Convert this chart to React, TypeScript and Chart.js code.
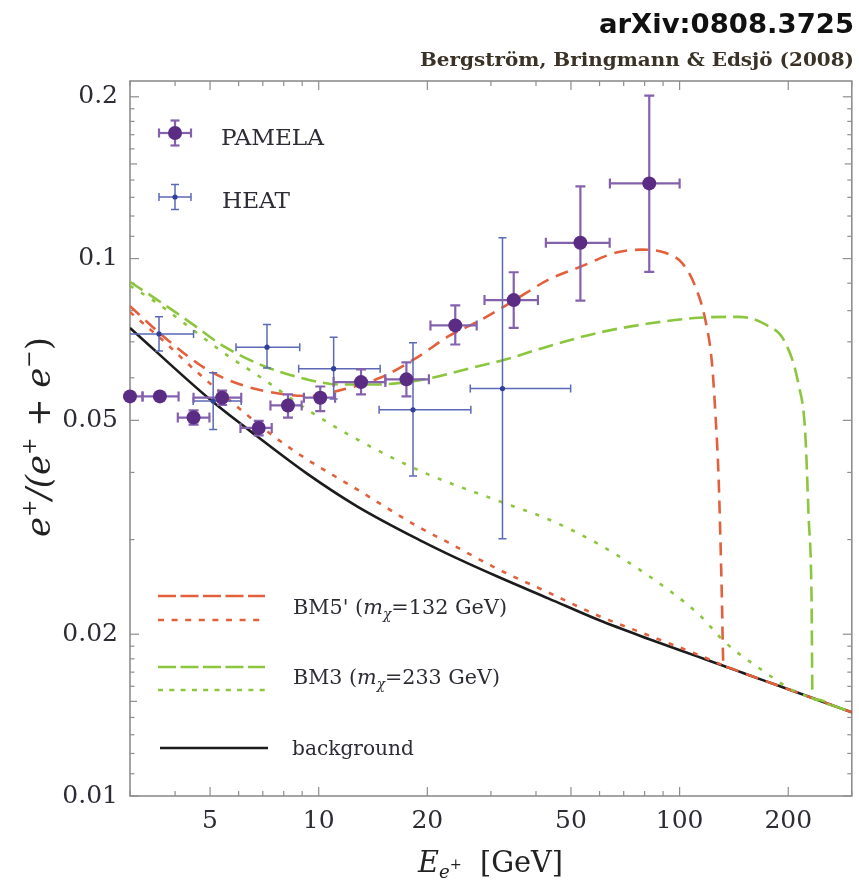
import React, { useEffect, useRef } from "react";
import { Chart, registerables } from "chart.js";

Chart.register(...registerables);

// ---------- axis ticks ----------
const xTickLabels = [5, 10, 20, 50, 100, 200];
const xMinorTicks = [3, 4, 6, 7, 8, 9, 30, 40, 60, 70, 80, 90, 300];
const yTickLabels = [0.01, 0.02, 0.05, 0.1, 0.2];
const yMediumTicks = [0.015, 0.15];
const yMinorTicks = [
  0.011, 0.012, 0.013, 0.014, 0.016, 0.017, 0.018, 0.019, 0.03, 0.04, 0.06, 0.07, 0.08, 0.09,
  0.11, 0.12, 0.13, 0.14, 0.16, 0.17, 0.18, 0.19,
];

// ---------- PAMELA ----------
const pamelaE = [3.0, 3.63, 4.5, 5.4, 6.82, 8.22, 10.1, 13.1, 17.5, 23.9, 34.7, 53.1, 82.4];
const pamelaV = [0.0554, 0.0554, 0.0506, 0.0551, 0.0484, 0.0533, 0.0551, 0.0589, 0.0596, 0.0751, 0.0837, 0.107, 0.138];
const pamelaElo = [2.75, 3.25, 4.07, 4.5, 6.07, 7.35, 9.1, 11.0, 15.3, 20.4, 28.8, 42.6, 64.1];
const pamelaEhi = [3.25, 4.09, 4.98, 6.1, 7.41, 8.97, 11.1, 15.3, 20.2, 27.4, 40.5, 64.0, 100];
const pamelaVlo = [0.0545, 0.0545, 0.0491, 0.0534, 0.0469, 0.0506, 0.052, 0.0559, 0.0554, 0.0692, 0.0743, 0.0835, 0.0945];
const pamelaVhi = [0.0563, 0.0563, 0.0522, 0.0568, 0.0499, 0.0559, 0.0578, 0.0622, 0.0641, 0.0818, 0.0943, 0.1363, 0.201];

// ---------- HEAT ----------
const heatE = [3.61, 5.1, 7.19, 11.0, 18.25, 32.3];
const heatV = [0.0724, 0.0543, 0.0684, 0.0624, 0.0523, 0.0573];
const heatElo = [2.95, 4.49, 5.9, 8.8, 14.7, 26.3];
const heatEhi = [4.5, 6.1, 8.86, 14.8, 26.4, 49.9];
const heatVlo = [0.0673, 0.0481, 0.0626, 0.0548, 0.0394, 0.0301];
const heatVhi = [0.0779, 0.0613, 0.0754, 0.0714, 0.0697, 0.1093];

// ---------- model curves ----------
const bgE = [3.0, 5.06, 6.75, 9.28, 12.77, 19.54, 22.9, 31.5, 43.4, 59.7, 82.1, 112.9, 133.8, 150, 170, 200, 250, 300];
const bgV = [0.0743, 0.0543, 0.0467, 0.0398, 0.0346, 0.02967, 0.02816, 0.02555, 0.0233, 0.02125, 0.0196, 0.01815, 0.01742, 0.01694, 0.01643, 0.0158, 0.01496, 0.01431];

const bm5DotE = [3.0, 3.72, 4.41, 6.07, 7.5, 9.28, 12.77, 18.7, 22.9, 31.5, 43.4, 59.7, 82.1, 112.9, 132];
const bm5DotV = [0.0795, 0.0702, 0.0631, 0.0524, 0.0467, 0.0423, 0.0372, 0.0318, 0.0296, 0.0264, 0.0239, 0.02163, 0.0199, 0.0183, 0.01750];

const bm5DashE = [3.0, 3.8, 4.9, 6.07, 8.0, 9.48, 11.24, 14.8, 18.7, 22.9, 28.3, 35.1, 43.4, 53.6, 66.4, 78.6, 91.3, 101.5, 110.5, 117.8, 122.9, 125.6, 128.3, 131.0, 132.2, 134, 150, 170, 200, 250, 300];
const bm5DashV = [0.0815, 0.0707, 0.0622, 0.0583, 0.0559, 0.0555, 0.0567, 0.06, 0.0654, 0.0717, 0.077, 0.0839, 0.0914, 0.0968, 0.1025, 0.1039, 0.1025, 0.0982, 0.0888, 0.077, 0.064, 0.0517, 0.0388, 0.0232, 0.0176, 0.01738, 0.01694, 0.01643, 0.0158, 0.01496, 0.01431];

const bm3DotE = [3.0, 3.56, 4.41, 5.45, 7.04, 9.28, 12.77, 19.54, 31.5, 43.4, 59.7, 82.1, 112.9, 133.8, 172.8, 200, 233, 300];
const bm3DotV = [0.089, 0.0827, 0.0743, 0.0668, 0.0596, 0.0524, 0.0461, 0.04, 0.0354, 0.0327, 0.0294, 0.02568, 0.02179, 0.01931, 0.01698, 0.0159, 0.0152, 0.01431];

const bm3DashE = [3.0, 3.56, 4.41, 5.45, 7.04, 9.28, 11.48, 14.2, 19.54, 25.5, 32.9, 43.4, 59.7, 82.1, 112.9, 145.7, 172.8, 196.3, 213.6, 222.9, 227.7, 232.0, 233.5, 240, 270, 300];
const bm3DashV = [0.0905, 0.0839, 0.076, 0.0687, 0.0631, 0.0596, 0.0583, 0.0583, 0.0596, 0.0622, 0.0649, 0.0687, 0.0728, 0.0757, 0.0776, 0.0779, 0.0754, 0.0697, 0.0583, 0.0474, 0.0332, 0.0236, 0.0152, 0.01511, 0.01468, 0.01431];

// ---------- styling ----------
const SERIF = "'DejaVu Serif', 'Liberation Serif', serif";
const RED = "#e2603c";
const GREEN = "#8cc63f";
const BLACK = "#1c1c1c";
const PURPLE = "#5b2c84";
const PURPLE_BAR = "#8461ad";
const BLUE = "#30419a";
const BLUE_BAR = "#5b69b6";
const TEXT = "#2c2c34";

const pts = (xs: number[], ys: number[]) => xs.map((x, i) => ({ x, y: ys[i] }));
const vSegs = (xs: number[], lo: number[], hi: number[]) => {
  const out: any[] = [];
  xs.forEach((x, i) => out.push({ x, y: lo[i] }, { x, y: hi[i] }, { x, y: null }));
  return out;
};
const hSegs = (lo: number[], hi: number[], ys: number[]) => {
  const out: any[] = [];
  ys.forEach((y, i) => out.push({ x: lo[i], y }, { x: hi[i], y }, { x: hi[i], y: null }));
  return out;
};

type Piece = { t: string; font: string; dy?: number };
function drawRich(ctx: CanvasRenderingContext2D, pieces: Piece[], x: number, y: number, target: number, align: "left" | "right" | "center") {
  const ws = pieces.map((p) => {
    ctx.font = p.font;
    return ctx.measureText(p.t).width;
  });
  const w = ws.reduce((a, b) => a + b, 0);
  const s = target > 0 ? target / w : 1;
  ctx.save();
  ctx.translate(x, y);
  ctx.scale(s, 1);
  ctx.textAlign = "left";
  ctx.textBaseline = "alphabetic";
  let cx = align === "left" ? 0 : align === "right" ? -w : -w / 2;
  pieces.forEach((p, i) => {
    ctx.font = p.font;
    ctx.fillText(p.t, cx, p.dy || 0);
    cx += ws[i];
  });
  ctx.restore();
}

function seg(ctx: CanvasRenderingContext2D, x1: number, y1: number, x2: number, y2: number) {
  ctx.beginPath();
  ctx.moveTo(x1, y1);
  ctx.lineTo(x2, y2);
  ctx.stroke();
}

const framePlugin = {
  id: "frameTicks",
  beforeDatasetsDraw(chart: any) {
    const { ctx, chartArea: a } = chart;
    const xs = chart.scales.x;
    const ys = chart.scales.y;
    ctx.save();
    ctx.strokeStyle = "#8e8e8e";
    ctx.lineWidth = 1.2;
    const xt = (vals: number[], len: number) =>
      vals.forEach((v) => {
        const p = xs.getPixelForValue(v);
        seg(ctx, p, a.bottom, p, a.bottom - len);
        seg(ctx, p, a.top, p, a.top + len);
      });
    const yt = (vals: number[], len: number) =>
      vals.forEach((v) => {
        const p = ys.getPixelForValue(v);
        seg(ctx, a.left, p, a.left + len, p);
        seg(ctx, a.right, p, a.right - len, p);
      });
    xt(xTickLabels, 9);
    xt(xMinorTicks, 5);
    yt(yTickLabels, 9);
    yt(yMediumTicks, 7);
    yt(yMinorTicks, 4.5);
    ctx.lineWidth = 1.6;
    ctx.strokeRect(a.left, a.top, a.right - a.left, a.bottom - a.top);
    ctx.restore();
  },
};

function errMarker(ctx: CanvasRenderingContext2D, cx: number, cy: number, dot: string, bar: string, r: number, hw: number, vh: number, cap: number, lw: number) {
  ctx.strokeStyle = bar;
  ctx.lineWidth = lw;
  seg(ctx, cx - hw, cy, cx + hw, cy);
  seg(ctx, cx, cy - vh, cx, cy + vh);
  seg(ctx, cx - hw, cy - cap, cx - hw, cy + cap);
  seg(ctx, cx + hw, cy - cap, cx + hw, cy + cap);
  seg(ctx, cx - cap, cy - vh, cx + cap, cy - vh);
  seg(ctx, cx - cap, cy + vh, cx + cap, cy + vh);
  ctx.fillStyle = dot;
  ctx.beginPath();
  ctx.arc(cx, cy, r, 0, Math.PI * 2);
  ctx.fill();
}

function lineSample(ctx: CanvasRenderingContext2D, x1: number, x2: number, y: number, color: string, dash: number[], lw: number) {
  ctx.save();
  ctx.strokeStyle = color;
  ctx.lineWidth = lw;
  ctx.setLineDash(dash);
  seg(ctx, x1, y, x2, y);
  ctx.restore();
}

const textPlugin = {
  id: "texts",
  afterDraw(chart: any) {
    const ctx: CanvasRenderingContext2D = chart.ctx;
    ctx.save();
    // header
    ctx.fillStyle = "#111";
    drawRich(ctx, [{ t: "arXiv:0808.3725", font: "bold 27px 'DejaVu Sans', sans-serif" }], 854, 33, 255, "right");
    ctx.fillStyle = "#3a3226";
    drawRich(ctx, [{ t: "Bergström, Bringmann & Edsjö (2008)", font: `bold 19px ${SERIF}` }], 854, 66, 434, "right");

    // data legend
    errMarker(ctx, 175, 133, PURPLE, PURPLE_BAR, 7, 16, 12.5, 4.5, 2.2);
    errMarker(ctx, 175, 197, BLUE, BLUE_BAR, 2.6, 16, 12.5, 4, 1.5);
    ctx.fillStyle = TEXT;
    drawRich(ctx, [{ t: "PAMELA", font: `22px ${SERIF}` }], 221, 145, 103, "left");
    drawRich(ctx, [{ t: "HEAT", font: `22px ${SERIF}` }], 222, 208, 68, "left");

    // model legend
    lineSample(ctx, 158, 265, 596, RED, [18, 4.5], 2.6);
    lineSample(ctx, 158, 265, 620, RED, [6, 7.6], 2.6);
    lineSample(ctx, 158, 265, 667, GREEN, [18, 4.5], 2.6);
    lineSample(ctx, 158, 265, 690, GREEN, [5, 6.3], 2.6);
    lineSample(ctx, 160, 268, 748, BLACK, [], 2.6);
    ctx.fillStyle = TEXT;
    const lf = `21px ${SERIF}`;
    const li = `italic 21px ${SERIF}`;
    const ls = `italic 14px ${SERIF}`;
    drawRich(ctx, [{ t: "BM5' (", font: lf }, { t: "m", font: li }, { t: "χ", font: ls, dy: 5 }, { t: "=132 GeV)", font: lf }], 293, 614, 214, "left");
    drawRich(ctx, [{ t: "BM3 (", font: lf }, { t: "m", font: li }, { t: "χ", font: ls, dy: 5 }, { t: "=233 GeV)", font: lf }], 293, 684, 207, "left");
    drawRich(ctx, [{ t: "background", font: lf }], 292, 755, 122, "left");

    // axis titles
    ctx.fillStyle = "#222";
    drawRich(
      ctx,
      [
        { t: "E", font: `italic 30px ${SERIF}` },
        { t: "e", font: `italic 19px ${SERIF}`, dy: 6 },
        { t: "+", font: `15px ${SERIF}`, dy: -3 },
        { t: "  [GeV]", font: `30px ${SERIF}` },
      ],
      418,
      872,
      145,
      "left"
    );
    ctx.save();
    ctx.translate(50, 537);
    ctx.rotate(-Math.PI / 2);
    const big = `34px ${SERIF}`;
    const bigI = `italic 34px ${SERIF}`;
    const sup = `21px ${SERIF}`;
    drawRich(
      ctx,
      [
        { t: "e", font: bigI },
        { t: "+", font: sup, dy: -14 },
        { t: "/(", font: bigI },
        { t: "e", font: bigI },
        { t: "+", font: sup, dy: -14 },
        { t: " + ", font: big },
        { t: "e", font: bigI },
        { t: "−", font: sup, dy: -14 },
        { t: ")", font: big },
      ],
      0,
      0,
      200,
      "left"
    );
    ctx.restore();
    ctx.restore();
  },
};

export default function App() {
  const ref = useRef<HTMLCanvasElement>(null);
  useEffect(() => {
    const curve = (label: string, xs: number[], ys: number[], color: string, dash: number[], order: number) => ({
      label,
      data: pts(xs, ys),
      showLine: true,
      borderColor: color,
      borderWidth: 2.6,
      borderDash: dash,
      borderCapStyle: "butt",
      pointRadius: 0,
      fill: false,
      cubicInterpolationMode: "monotone",
      order,
    });
    const bars = (label: string, data: any[], color: string, lw: number, cap: number, rot: number, order: number) => ({
      label,
      data,
      showLine: true,
      borderColor: color,
      borderWidth: lw,
      pointStyle: "line",
      pointRadius: cap,
      pointRotation: rot,
      pointBorderColor: color,
      pointBackgroundColor: color,
      pointBorderWidth: lw,
      fill: false,
      spanGaps: false,
      order,
    });
    const chart = new Chart(ref.current as HTMLCanvasElement, {
      type: "scatter",
      data: {
        datasets: [
          {
            label: "PAMELA",
            data: pts(pamelaE, pamelaV),
            showLine: false,
            pointRadius: 7,
            pointBackgroundColor: PURPLE,
            pointBorderWidth: 0,
            clip: false,
            order: 0,
          } as any,
          {
            label: "HEAT",
            data: pts(heatE, heatV),
            showLine: false,
            pointRadius: 2.6,
            pointBackgroundColor: BLUE,
            pointBorderWidth: 0,
            order: 1,
          } as any,
          bars("PAMELA σ", vSegs(pamelaE, pamelaVlo, pamelaVhi), PURPLE_BAR, 2.2, 5, 0, 2),
          bars("PAMELA ΔE", hSegs(pamelaElo, pamelaEhi, pamelaV), PURPLE_BAR, 2.2, 5, 90, 2),
          bars("HEAT σ", vSegs(heatE, heatVlo, heatVhi), BLUE_BAR, 1.5, 4, 0, 3),
          bars("HEAT ΔE", hSegs(heatElo, heatEhi, heatV), BLUE_BAR, 1.5, 4, 90, 3),
          curve("BM3 dashed", bm3DashE, bm3DashV, GREEN, [15, 7], 4),
          curve("BM3 dotted", bm3DotE, bm3DotV, GREEN, [4, 9], 5),
          curve("BM5' dashed", bm5DashE, bm5DashV, RED, [13, 8], 6),
          curve("BM5' dotted", bm5DotE, bm5DotV, RED, [5, 8], 7),
          curve("background", bgE, bgV, BLACK, [], 8),
        ] as any,
      },
      options: {
        animation: false,
        responsive: false,
        devicePixelRatio: 1,
        events: [],
        layout: { padding: { top: 81, right: 6, left: 0, bottom: 0 } },
        plugins: {
          legend: { display: false },
          tooltip: { enabled: false },
          title: { display: false },
        },
        scales: {
          x: {
            type: "logarithmic",
            min: 3,
            max: 300,
            bounds: "data",
            grid: { display: false, drawTicks: false },
            border: { display: false },
            afterBuildTicks: (s: any) => {
              s.ticks = xTickLabels.map((v) => ({ value: v }));
            },
            afterFit: (s: any) => {
              s.height = 84;
            },
            ticks: {
              autoSkip: false,
              maxRotation: 0,
              minRotation: 0,
              padding: 10,
              color: TEXT,
              font: { family: SERIF, size: 25 },
              callback: (v: any) => String(v),
            },
          },
          y: {
            type: "logarithmic",
            min: 0.01,
            max: 0.214,
            bounds: "data",
            grid: { display: false, drawTicks: false },
            border: { display: false },
            afterBuildTicks: (s: any) => {
              s.ticks = yTickLabels.map((v) => ({ value: v }));
            },
            afterFit: (s: any) => {
              s.width = 130;
            },
            ticks: {
              autoSkip: false,
              padding: 12,
              color: TEXT,
              font: { family: SERIF, size: 25 },
              callback: (v: any) => String(v),
            },
          },
        },
      } as any,
      plugins: [framePlugin, textPlugin],
    });
    return () => chart.destroy();
  }, []);
  return (
    <div style={{ position: "absolute", left: 0, top: 0, width: 859, height: 880, background: "#fff" }}>
      <canvas ref={ref} width={859} height={880} style={{ display: "block", width: 859, height: 880 }} />
    </div>
  );
}
